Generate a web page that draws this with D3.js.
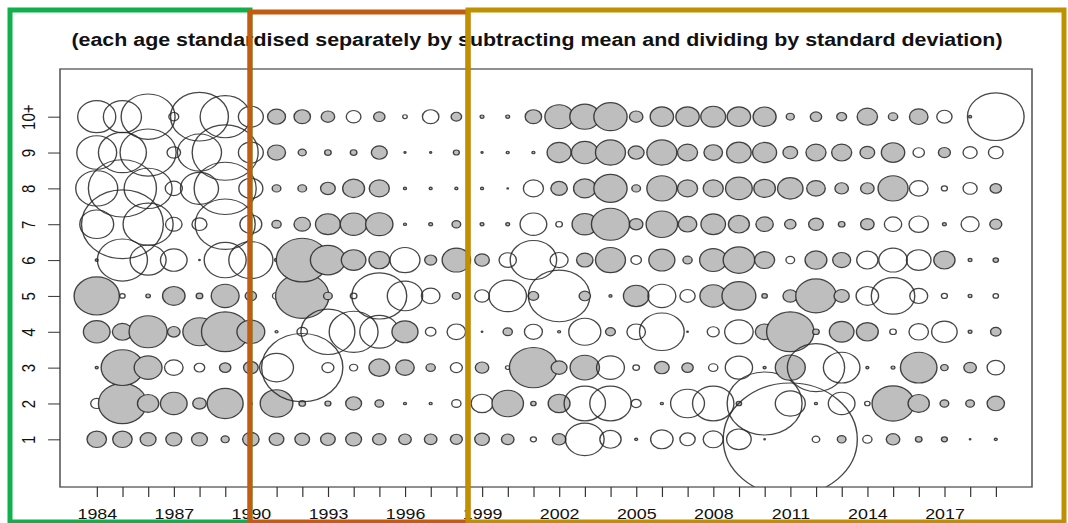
<!DOCTYPE html>
<html>
<head>
<meta charset="utf-8">
<script src="https://cdn.jsdelivr.net/npm/d3@7"></script>
<style>
  body { margin: 0; background: #fff; }
  svg { display: block; font-family: "Liberation Sans", Arial, sans-serif; }
</style>
</head>
<body>
<svg id="bubbles" width="1068" height="523"></svg>
<script>
// years on the x axis, ages on the y axis
var years = [1984,1985,1986,1987,1988,1989,1990,1991,1992,1993,1994,1995,1996,1997,1998,1999,2000,
             2001,2002,2003,2004,2005,2006,2007,2008,2009,2010,2011,2012,2013,2014,2015,2016,2017,2018,2019];
var yearLabels = [1984,1987,1990,1993,1996,1999,2002,2005,2008,2011,2014,2017];
var ageLabels = ["1","2","3","4","5","6","7","8","9","10+"];

// standardised values per age (positive = filled grey, negative = open)
var age1  = [0.65,0.65,0.53,0.53,0.53,0.27,0.55,0.49,0.49,0.49,0.53,0.45,0.42,0.42,0.40,0.49,0.42,-0.20,0.45,-1.29,-0.71,0.10,-0.75,-0.51,-0.67,-0.82,-0.05,-4.47,-0.25,0.29,-0.31,0.45,0.22,0.20,0.05,0.10];
var age2  = [-0.40,1.60,0.71,0.89,0.45,1.20,0.10,1.09,0.22,0.20,0.53,0.29,0.10,0.10,-0.31,-0.73,1.05,0.18,0.73,-1.38,-1.38,-0.33,0.10,-1.13,-1.38,0.18,-2.50,-1.00,0.10,-0.89,-0.18,1.40,0.71,0.29,0.29,0.58];
var age3  = [0.10,1.42,0.93,-0.62,-0.35,0.38,0.49,-1.13,-2.71,-0.40,-0.27,0.69,0.62,0.31,-0.40,0.45,-0.15,1.60,0.53,0.98,-0.93,-0.22,0.49,0.38,-0.31,-0.91,0.10,1.00,-1.91,-1.22,0.10,0.13,1.22,0.25,0.42,-0.58];
var age4  = [0.89,0.67,1.27,0.42,1.11,1.58,0.93,0.10,-0.35,-1.80,-1.63,-1.30,0.87,-0.35,-0.62,0.05,0.31,-0.60,0.10,-1.07,0.33,-0.62,-1.49,0.05,-0.40,-0.95,0.62,1.58,0.22,0.82,0.73,-0.22,-0.65,-0.85,0.13,0.35];
var age5  = [1.51,-0.18,0.15,0.75,0.22,0.93,0.38,-0.27,1.78,0.29,-0.22,-1.83,-1.18,-0.62,0.27,-0.49,-1.25,0.35,-2.05,0.38,0.10,0.85,-0.93,-0.51,0.89,1.13,0.18,0.49,1.35,0.51,-0.75,-1.45,-0.60,-0.20,0.13,-0.18];
var age6  = [0.10,-1.67,-1.20,-0.89,0.05,-1.40,-1.47,0.13,1.73,1.17,0.82,0.69,-1.00,0.40,0.95,0.49,-0.58,-1.55,-0.60,0.55,1.00,-0.35,0.87,0.31,0.91,1.05,0.67,-0.29,0.73,0.60,-0.71,-0.95,-0.82,0.71,0.13,0.18];
var age7  = [-1.13,-2.73,-1.67,-0.55,-0.50,-2.00,-0.73,0.31,0.55,0.83,0.89,0.91,0.10,0.13,0.29,0.13,0.13,-0.89,-0.22,0.85,1.27,0.45,1.05,0.62,0.82,0.70,0.58,0.38,0.49,0.22,0.45,-0.58,-0.65,0.13,-0.60,0.40];
var age8  = [-1.40,-2.27,-1.60,-0.57,-1.27,-2.07,-0.80,0.29,0.29,0.49,0.73,0.67,0.10,0.10,0.10,0.10,0.05,-0.67,0.55,0.75,1.11,0.29,1.00,0.67,0.67,0.89,0.72,0.85,0.62,0.45,0.45,1.00,-0.62,-0.20,-0.47,0.38];
var age9  = [-1.33,-1.60,-1.87,-0.45,-1.47,-2.20,-0.83,0.60,0.27,0.22,0.22,0.53,0.07,0.07,0.20,0.07,0.10,0.10,0.80,0.89,1.00,0.53,1.00,0.67,0.62,0.82,0.80,0.49,0.67,0.67,0.49,0.78,-0.38,0.40,-0.47,-0.49];
var age10 = [-1.27,-1.27,-1.80,-0.33,-1.93,-1.67,-0.83,0.60,0.55,0.45,-0.49,0.38,-0.15,-0.55,0.35,0.13,0.13,0.55,0.95,1.00,1.11,0.45,0.78,0.78,0.83,0.78,0.77,0.27,0.38,0.33,0.68,0.31,0.62,-0.51,0.10,-1.89];
var byAge = [age1, age2, age3, age4, age5, age6, age7, age8, age9, age10];

var titleText = "(each age standardised separately by subtracting mean and dividing by standard deviation)";

var svg = d3.select("svg#bubbles"),
    width = +svg.attr("width"),
    height = +svg.attr("height");

// the original picture is stretched sideways, so draw in a squeezed frame and stretch it back
var stretch = 1.19;
var box = { left: 60 / stretch, right: 1032 / stretch, top: 69, bottom: 487 };

var x = d3.scaleLinear().domain([1982.57, 2020.41]).range([box.left, box.right]);
var y = d3.scaleLinear().domain([-0.33, 11.33]).range([box.bottom, box.top]);
var r = d3.scaleLinear().domain([0, 1]).range([0, 12.6]);

var g = svg.append("g").attr("transform", "scale(" + stretch + ",1)");

g.append("clipPath").attr("id", "plotclip")
  .append("rect")
    .attr("x", box.left).attr("y", box.top)
    .attr("width", box.right - box.left).attr("height", box.bottom - box.top);

//one cell per year and age, drawn year by year
var cells = [];
years.forEach(function(yr, i) {
  byAge.forEach(function(vals, a) {
    cells.push({ year: yr, age: a + 1, value: vals[i] });
  });
});

g.append("g")
    .attr("clip-path", "url(#plotclip)")
  .selectAll("circle")
  .data(cells)
  .enter().append("circle")
    .attr("cx", function(d) { return x(d.year); })
    .attr("cy", function(d) { return y(d.age); })
    .attr("r", function(d) { return r(Math.abs(d.value)); })
    .attr("fill", function(d) { return d.value > 0 ? "#bebebe" : "none"; })
    .attr("stroke", "#262626")
    .attr("stroke-opacity", 0.85)
    .attr("stroke-width", 1.15);

// plot frame
g.append("rect")
    .attr("x", box.left).attr("y", box.top)
    .attr("width", box.right - box.left).attr("height", box.bottom - box.top)
    .attr("fill", "none")
    .attr("stroke", "#555")
    .attr("stroke-width", 1.3);

// x axis
var xAxis = d3.axisBottom(x)
    .tickValues(years)
    .tickSize(10)
    .tickSizeOuter(0)
    .tickPadding(11)
    .tickFormat(function(d) { return yearLabels.indexOf(d) >= 0 ? d : ""; });

var gx = g.append("g")
    .attr("transform", "translate(0," + box.bottom + ")")
    .call(xAxis);
gx.select(".domain").remove();
gx.selectAll(".tick line").attr("stroke", "#333");
gx.selectAll("text").attr("font-size", 15).attr("fill", "#111").attr("font-family", null);

// y axis with labels turned on their side
var yAxis = d3.axisLeft(y)
    .tickValues([1,2,3,4,5,6,7,8,9,10])
    .tickSize(10)
    .tickSizeOuter(0)
    .tickFormat(function(d) { return ageLabels[d - 1]; });

var gy = g.append("g")
    .attr("transform", "translate(" + box.left + ",0)")
    .call(yAxis);
gy.select(".domain").remove();
gy.selectAll(".tick line").attr("stroke", "#333");
gy.selectAll("text")
    .attr("x", 0)
    .attr("y", -21)
    .attr("dy", 0)
    .attr("text-anchor", "middle")
    .attr("transform", "rotate(-90)")
    .attr("font-size", 15)
    .attr("fill", "#111")
    .attr("font-family", null);

// title
g.append("text")
    .attr("x", 537 / stretch)
    .attr("y", 46)
    .attr("text-anchor", "middle")
    .attr("font-size", 18)
    .attr("font-weight", "bold")
    .attr("fill", "#111")
    .text(titleText);

// coloured period boxes drawn over the chart
var periods = [
  { x0: 10,  x1: 250,  top: 10, color: "#10b04c" },
  { x0: 250, x1: 468,  top: 12, color: "#c55a11" },
  { x0: 468, x1: 1064, top: 10, color: "#bf9000" }
];

svg.append("g")
  .selectAll("rect")
  .data(periods)
  .enter().append("rect")
    .attr("x", function(d) { return d.x0; })
    .attr("y", function(d) { return d.top; })
    .attr("width", function(d) { return d.x1 - d.x0; })
    .attr("height", function(d) { return 522 - d.top; })
    .attr("fill", "none")
    .attr("stroke", function(d) { return d.color; })
    .attr("stroke-width", 5);
</script>
</body>
</html>
